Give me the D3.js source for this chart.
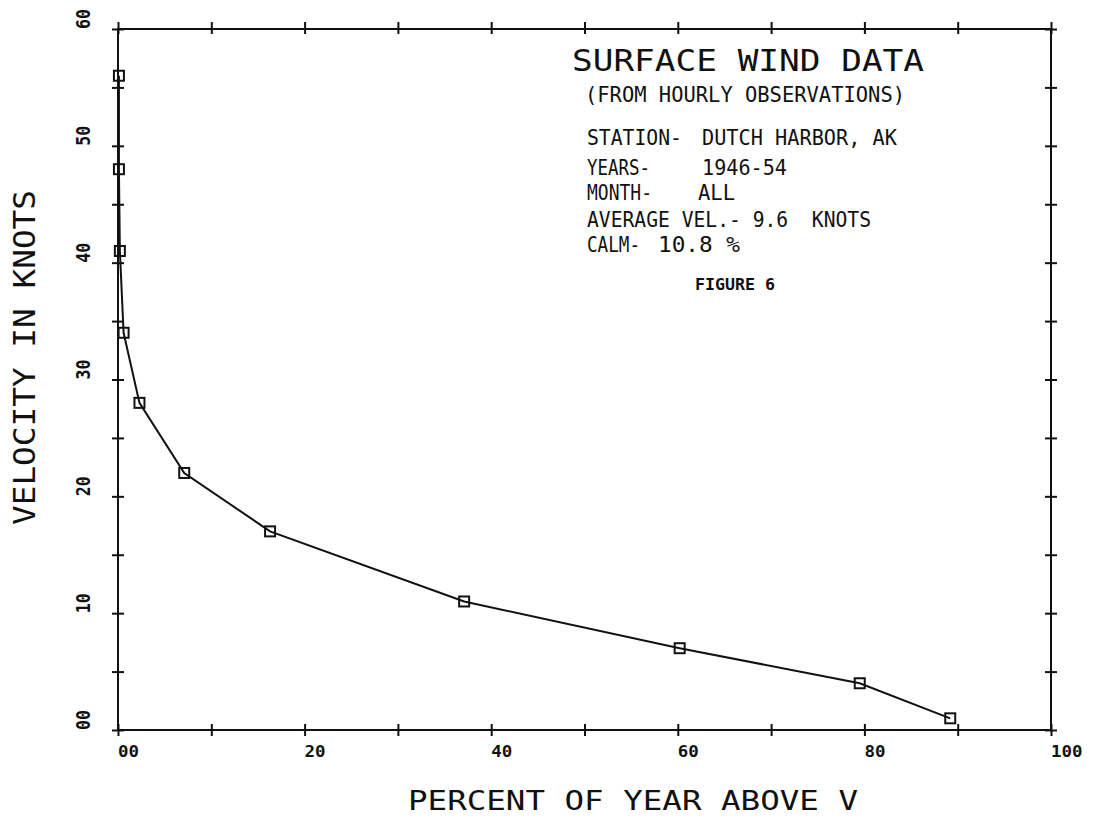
<!DOCTYPE html>
<html>
<head>
<meta charset="utf-8">
<script src="https://cdn.jsdelivr.net/npm/d3@7"></script>
<style>
  html, body { margin: 0; padding: 0; background: #fff; }
  svg { display: block; }
  text { font-family: "DejaVu Sans Mono", "Liberation Mono", monospace; fill: #111; }
</style>
</head>
<body>
<svg id="chart" width="1097" height="819"></svg>
<script>
// ---- data ----
const percentAbove = [89.2, 79.5, 60.2, 37.1, 16.3, 7.1, 2.3, 0.6, 0.2, 0.1, 0.1];
const velocity     = [1, 4, 7, 11, 17, 22, 28, 34, 41, 48, 56];
const xTickValues  = [0, 10, 20, 30, 40, 50, 60, 70, 80, 90, 100];
const xLabelValues = [0, 20, 40, 60, 80, 100];
const xLabelTexts  = ["00", "20", "40", "60", "80", "100"];
const yTickValues  = [0, 5, 10, 15, 20, 25, 30, 35, 40, 45, 50, 55, 60];
const yLabelValues = [0, 10, 20, 30, 40, 50, 60];
const yLabelTexts  = ["00", "10", "20", "30", "40", "50", "60"];
const titleLine    = "SURFACE WIND DATA";
const subtitleLine = "(FROM HOURLY OBSERVATIONS)";
const infoKeys     = ["STATION-", "YEARS-", "MONTH-", "AVERAGE VEL.-", "CALM-"];
const infoValues   = ["DUTCH HARBOR, AK", "1946-54", "ALL", "9.6  KNOTS", "10.8 %"];
const figureLabel  = "FIGURE 6";
const xTitle       = "PERCENT OF YEAR ABOVE V";
const yTitle       = "VELOCITY IN KNOTS";

// ---- layout ----
const L = 118, R = 1051, T = 29, B = 730;
const svg = d3.select("#chart");
const x = d3.scaleLinear().domain([0, 100]).range([L, R]);
const y = d3.scaleLinear().domain([0, 60]).range([B, T]);
const ink = "#111";

// frame
svg.append("rect").attr("x", L).attr("y", T).attr("width", R - L).attr("height", B - T)
  .attr("fill", "none").attr("stroke", ink).attr("stroke-width", 2);

function crossTicks(g) {
  g.select(".domain").remove();
  g.selectAll(".tick line").attr("stroke", ink).attr("stroke-width", 2);
}
const gb = svg.append("g").attr("transform", `translate(0,${B})`)
  .call(d3.axisBottom(x).tickValues(xTickValues).tickSize(6).tickFormat(""));
crossTicks(gb); gb.selectAll(".tick line").attr("y1", -6).attr("y2", 6);
const gt = svg.append("g").attr("transform", `translate(0,${T})`)
  .call(d3.axisTop(x).tickValues(xTickValues).tickSize(6).tickFormat(""));
crossTicks(gt); gt.selectAll(".tick line").attr("y1", -7).attr("y2", 5);
const gl = svg.append("g").attr("transform", `translate(${L},0)`)
  .call(d3.axisLeft(y).tickValues(yTickValues).tickSize(6).tickFormat(""));
crossTicks(gl); gl.selectAll(".tick line").attr("x1", -6).attr("x2", 6);
const gr = svg.append("g").attr("transform", `translate(${R},0)`)
  .call(d3.axisRight(y).tickValues(yTickValues).tickSize(6).tickFormat(""));
crossTicks(gr); gr.selectAll(".tick line").attr("x1", -6).attr("x2", 6);

// tick labels
svg.append("g").selectAll("text").data(xLabelValues).join("text")
  .attr("x", d => x(d)).attr("y", 757)
  .attr("font-size", 16).attr("font-weight", "bold")
  .attr("textLength", (d, i) => xLabelTexts[i].length * 10.5)
  .attr("lengthAdjust", "spacingAndGlyphs")
  .text((d, i) => xLabelTexts[i]);
svg.append("g").selectAll("text").data(yLabelValues).join("text")
  .attr("transform", d => `translate(90,${y(d)}) rotate(-90)`)
  .attr("font-size", 20).attr("font-weight", "bold")
  .attr("textLength", 20).attr("lengthAdjust", "spacingAndGlyphs")
  .text((d, i) => yLabelTexts[i]);

// axis titles
svg.append("text").attr("x", 408).attr("y", 810)
  .attr("font-size", 27).attr("textLength", 450).attr("lengthAdjust", "spacingAndGlyphs")
  .text(xTitle);
svg.append("text").attr("transform", "translate(35,525) rotate(-90)")
  .attr("font-size", 30).attr("textLength", 335).attr("lengthAdjust", "spacingAndGlyphs")
  .text(yTitle);

// text block
svg.append("text").attr("x", 572).attr("y", 70.5)
  .attr("font-size", 30).attr("textLength", 352).attr("lengthAdjust", "spacingAndGlyphs")
  .text(titleLine);
svg.append("text").attr("x", 585).attr("y", 102)
  .attr("font-size", 22).attr("textLength", 320).attr("lengthAdjust", "spacingAndGlyphs")
  .text(subtitleLine);
const infoBase = [145, 175, 200, 227, 252];
const infoKeyLen = [95, 63, 65, 0, 53];
const infoValX = [702, 702, 698, 0, 658];
const infoValLen = [195, 85, 37, 0, 82];
infoKeys.forEach((k, i) => {
  const t = svg.append("text").attr("y", infoBase[i]).attr("font-size", 21)
    .attr("xml:space", "preserve").style("white-space", "pre");
  if (infoValX[i] === 0) {
    // key and value share one run of text on this line
    t.attr("x", 587).attr("textLength", 284).attr("lengthAdjust", "spacingAndGlyphs")
      .text(k + " " + infoValues[i]);
    return;
  }
  t.append("tspan").attr("x", 587)
    .attr("textLength", infoKeyLen[i]).attr("lengthAdjust", "spacingAndGlyphs")
    .text(k);
  t.append("tspan").attr("x", infoValX[i])
    .attr("textLength", infoValLen[i]).attr("lengthAdjust", "spacingAndGlyphs")
    .text(infoValues[i]);
});
svg.append("text").attr("x", 695).attr("y", 290)
  .attr("font-size", 16).attr("font-weight", "bold")
  .attr("textLength", 80).attr("lengthAdjust", "spacingAndGlyphs")
  .text(figureLabel);

// data
const pts = percentAbove.map((p, i) => ({ p, v: velocity[i] }));
svg.append("path").datum(pts)
  .attr("d", d3.line().x(d => x(d.p)).y(d => y(d.v)))
  .attr("fill", "none").attr("stroke", ink).attr("stroke-width", 2);
const s = 10;
svg.append("g").selectAll("rect").data(pts).join("rect")
  .attr("x", d => x(d.p) - s / 2).attr("y", d => y(d.v) - s / 2)
  .attr("width", s).attr("height", s)
  .attr("fill", "none").attr("stroke", ink).attr("stroke-width", 2);
</script>
</body>
</html>
